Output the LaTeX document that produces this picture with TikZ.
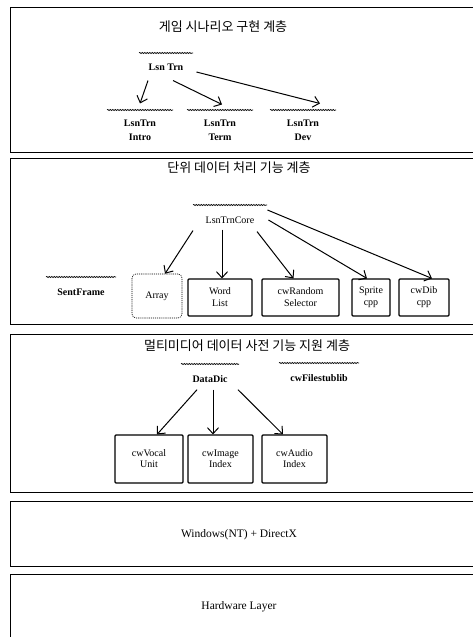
\documentclass[tikz,border=0pt]{standalone}
\usepackage{fontspec}
\setmainfont{Liberation Serif}
\newfontfamily\kofont{Noto Sans CJK KR}
\usetikzlibrary{arrows.meta}
\usetikzlibrary{decorations.pathmorphing}
\newcommand{\tikzSquiggle}[3]{\draw[squiggle] ([shift = {(-#2pt,#3pt)}]#1.center) -- ([shift = {(#2pt,#3pt)}]#1.center)}
\tikzset{
  layer/.style = {line width = 0.9pt},
  layerTitle/.style = {font = \kofont\fontsize{13}{15}\selectfont},
  layerText/.style = {font = \fontsize{11.5}{13}\selectfont},
  module/.style = {font = \bfseries\fontsize{10}{14}\selectfont, align = center, inner sep = 2pt},
  unit/.style = {draw, line width = 1.1pt, rounded corners = 1pt, align = center, inner sep = 0pt},
  arr/.style = {-{Straight Barb[length = 6pt, width = 11pt]}, line width = 1pt},
  squiggle/.style = {decorate, decoration = {snake, amplitude = 0.6pt, segment length = 2.5pt}, line width = 0.6pt}
}

\begin{document}
\begin{tikzpicture}[x = 1pt, y = -1pt]
                        \useasboundingbox (0,0) rectangle (472,637);
                        \draw[layer] (10,7) rectangle (480,152);
                        \draw[layer] (10,158) rectangle (480,324);
                        \draw[layer] (10,334) rectangle (480,492);
                        \draw[layer] (10,501) rectangle (480,566);
                        \draw[layer] (10,574) rectangle (480,645);
                        % game scenario layer
                        \node[layerTitle] (gameTitle) at (223,27) {게임 시나리오 구현 계층};
                        \node[module] (lsnTrn) at (166,67) {Lsn Trn};
                        \node[module] (lsnIntro) at (140,130) {LsnTrn\\Intro};
                        \node[module] (lsnTerm) at (220,130) {LsnTrn\\Term};
                        \node[module] (lsnDev) at (303,130) {LsnTrn\\Dev};
                        \tikzSquiggle{lsnTrn}{27}{14};
                        \foreach \modName in {lsnIntro,lsnTerm,lsnDev}{
                            \tikzSquiggle{\modName}{33}{20};
                          }
                        \draw[arr] ([xshift = -18pt, yshift = -8pt]lsnTrn.south) -- ([yshift = 14pt]lsnIntro.north);
                        \draw[arr] ([xshift = 7pt, yshift = -8pt]lsnTrn.south) -- ([xshift = 2pt, yshift = 13pt]lsnTerm.north);
                        \draw[arr] ([xshift = 11pt, yshift = -5pt]lsnTrn.east) -- ([xshift = 17pt, yshift = 14pt]lsnDev.north);
                        % unit data layer
                        \node[layerTitle] (unitTitle) at (239,168) {단위 데이터 처리 기능 계층};
                        \node[module, font = \fontsize{10}{14}\selectfont] (lsnCore) at (230,220) {LsnTrnCore};
                        \node[module] (sentFrame) at (81,292) {SentFrame};
                        \tikzSquiggle{lsnCore}{37}{15};
                        \tikzSquiggle{sentFrame}{35}{15};
                        \node[unit, densely dotted, line width = 0.6pt, rounded corners = 4pt, minimum width = 50pt, minimum height = 44pt] (array) at (157,296) {Array};
                        \node[unit, minimum width = 64pt, minimum height = 37pt] (wordList) at (220,297.5) {Word\\List};
                        \node[unit, minimum width = 77pt, minimum height = 37pt] (randSel) at (300.5,297.5) {cwRandom\\Selector};
                        \node[unit, minimum width = 38pt, minimum height = 37pt] (sprite) at (371,297.5) {Sprite\\cpp};
                        \node[unit, minimum width = 50pt, minimum height = 37pt] (dib) at (424,297.5) {cwDib\\cpp};
                        \draw[arr] ([xshift = -37pt, yshift = -5pt]lsnCore.south) -- ([xshift = 8pt]array.north);
                        \draw[arr] ([xshift = -8pt, yshift = -4pt]lsnCore.south) -- ([xshift = 2pt]wordList.north);
                        \draw[arr] ([xshift = 27pt, yshift = -6pt]lsnCore.south) -- ([xshift = -7pt]randSel.north);
                        \draw[arr] ([xshift = 12pt]lsnCore.east) -- ([xshift = -4pt]sprite.north);
                        \draw[arr] ([xshift = 11pt, yshift = 10pt]lsnCore.east) -- ([xshift = 8pt]dib.north);
                        % multimedia dictionary layer
                        \node[layerTitle] (mediaTitle) at (247,346) {멀티미디어 데이터 사전 기능 지원 계층};
                        \node[module] (dataDic) at (210,379) {DataDic};
                        \node[module] (fileStub) at (319,378) {cwFilestublib};
                        \tikzSquiggle{dataDic}{29}{15};
                        \tikzSquiggle{fileStub}{40}{15};
                        \node[unit, minimum width = 68pt, minimum height = 48pt, font = \fontsize{10}{11}\selectfont] (vocal) at (149,459) {cwVocal\\Unit};
                        \node[unit, minimum width = 65pt, minimum height = 48pt, font = \fontsize{10}{11}\selectfont] (imageIdx) at (220.5,459) {cwImage\\Index};
                        \node[unit, minimum width = 65pt, minimum height = 48pt, font = \fontsize{10}{11}\selectfont] (audioIdx) at (294.5,459) {cwAudio\\Index};
                        \draw[arr] ([xshift = -13pt, yshift = -5pt]dataDic.south) -- ([xshift = 8pt]vocal.north);
                        \draw[arr] ([xshift = 3pt, yshift = -5pt]dataDic.south) -- ([xshift = -7.5pt]imageIdx.north);
                        \draw[arr] ([xshift = 28pt, yshift = -5pt]dataDic.south) -- ([xshift = -11.5pt]audioIdx.north);
                        % os and hardware
                        \node[layerText] (osLayer) at (239,535) {Windows(NT) + DirectX};
                        \node[layerText] (hwLayer) at (239,607) {Hardware Layer};
                      \end{tikzpicture}
\end{document}
